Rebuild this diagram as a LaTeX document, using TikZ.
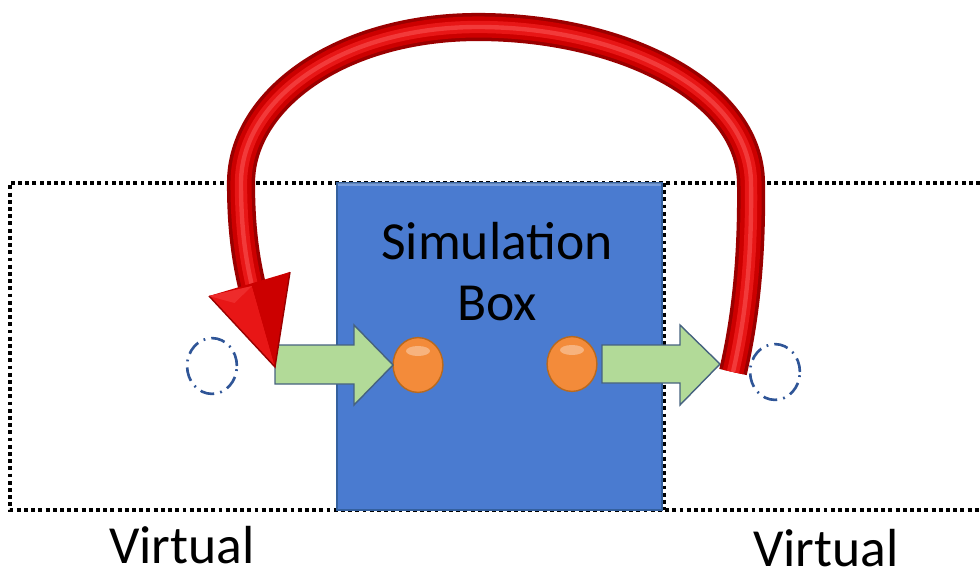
\documentclass[tikz,border=0pt]{standalone}
\usepackage{fontspec}
\setmainfont{Carlito}
\usetikzlibrary{shapes.geometric,calc}
\newlength{\pxu}
\setlength{\pxu}{0.567pt}
\definecolor{boxblue}{HTML}{4A7BD0}
\definecolor{boxedge}{HTML}{34609E}
\definecolor{ringblue}{HTML}{2F5597}
\definecolor{arrowgreen}{HTML}{B2DA98}
\definecolor{arrowedge}{HTML}{46627F}
\definecolor{ballorange}{HTML}{F38B3A}
\definecolor{balledge}{HTML}{B8691E}
\definecolor{tubedark}{HTML}{9A0000}
\definecolor{tubemid}{HTML}{CC0000}
\definecolor{tubelight}{HTML}{E81616}
\definecolor{tubeshine}{HTML}{F23A3A}
\tikzset{
  cell/.style={draw=black, line width=2.1pt, dash pattern=on 2.2pt off 1.9pt},
  simbox/.style={draw=boxedge, fill=boxblue, line width=1pt},
  ghost/.style={ellipse, draw=ringblue, line width=1.5pt, minimum width=50\pxu, minimum height=56\pxu,
    inner sep=0pt, dash pattern=on 8pt off 3.5pt on 1pt off 3.5pt},
  atom/.style={ellipse, draw=balledge, fill=ballorange, line width=0.8pt, minimum width=50\pxu,
    minimum height=55\pxu, inner sep=0pt},
  move/.style={draw=arrowedge, fill=arrowgreen, line width=0.8pt, line join=miter},
  label/.style={font=\fontsize{30.5pt}{34pt}\selectfont, text=black, inner sep=0pt},
}
\begin{document}
\begin{tikzpicture}[x=0.02cm, y=-0.02cm]
\useasboundingbox (0,0) rectangle (980,568);

% periodic cells (dotted)
\draw[cell] (980,183) -- (10,183) -- (10,510) -- (980,510);
\draw[cell] (664,183) -- (664,510);

% simulation box
\node[simbox, minimum width=326\pxu, minimum height=328\pxu, inner sep=0pt, anchor=north west]
  (sim) at (336,182) {};
\draw[white, opacity=0.25, line width=2pt] ([xshift=1pt,yshift=-1.5pt]sim.north west) -- ([xshift=-1pt,yshift=-1.5pt]sim.north east);
\node[label] (simtxt) at (497,241) {Simulation};
\node[label] (boxtxt) at (497,303) {Box};

% ghost images
\node[ghost] (ghostL) at (212,366) {};
\node[ghost] (ghostR) at (775,372) {};

% particles
\node[atom] (atomL) at (418,365) {};
\node[atom] (atomR) at (572,364) {};
\fill[white, opacity=0.35] (atomL.center) ++(0,-14) ellipse (12 and 5);
\fill[white, opacity=0.35] (atomR.center) ++(0,-14) ellipse (12 and 5);

% displacement arrows
\coordinate (mvL) at (275,345);
\coordinate (mvR) at (602,345);
\draw[move] (mvL) -- ++(79,0) -- ++(0,-20) -- (393,365) -- (354,405) -- ++(0,-21) -- (275,384) -- cycle;
\draw[move] (mvR) -- ++(78,0) -- ++(0,-20) -- (720,364) -- (680,405) -- ++(0,-22) -- (602,383) -- cycle;

% wrap-around tube
\def\tubepath{(733,372) .. controls (745,320) and (752,260) .. (751,183)
  .. controls (750,90) and (620,27) .. (478,27)
  .. controls (340,27) and (241,100) .. (241,183)
  .. controls (241,230) and (246,260) .. (252,286)}
\draw[tubedark, line width=16pt] \tubepath;
\draw[tubemid, line width=12pt] \tubepath;
\draw[tubelight, line width=7pt] \tubepath;
\draw[tubeshine, line width=2.5pt] \tubepath;

% arrowhead
\coordinate (headA) at (209,296);
\coordinate (headB) at (290,272);
\coordinate (headT) at (275,367);
\coordinate (headM) at (252,286);
\fill[tubemid] (headA) -- (headB) -- (headT) -- cycle;
\fill[tubelight] (headA) -- (headM) -- (headT) -- cycle;
\fill[tubemid] (headM) -- (headB) -- (headT) -- cycle;
\draw[tubedark, line width=0.8pt] (headA) -- (headT) -- (headB);
\fill[tubeshine, opacity=0.6] (headA) -- (headM) -- ($(headA)!0.5!(headM)+(4,12)$) -- cycle;

% cell labels
\node[label] (virtL) at (182,545) {Virtual};
\node[label] (virtR) at (826,548) {Virtual};
\end{tikzpicture}
\end{document}
